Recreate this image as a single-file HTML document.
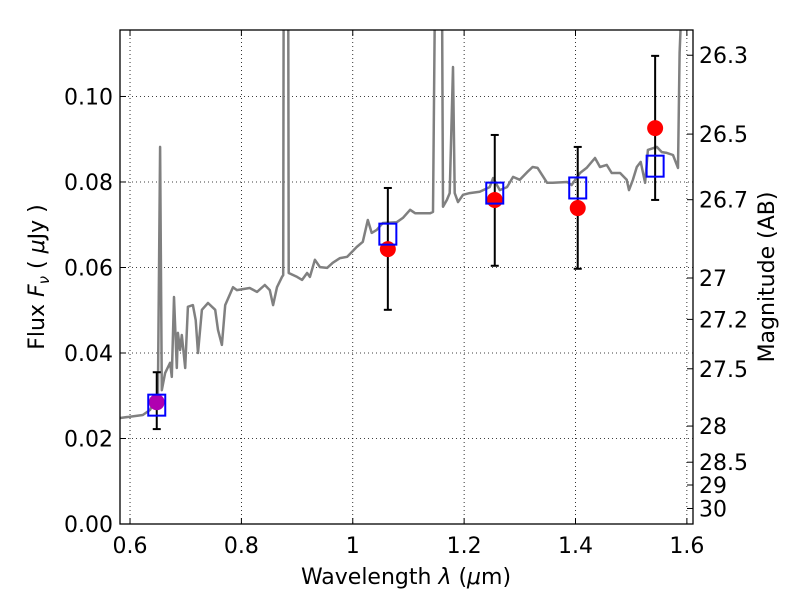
<!DOCTYPE html>
<html><head><meta charset="utf-8"><style>
body{margin:0;background:#fff}
svg{font-family:"DejaVu Sans","Liberation Sans",sans-serif}
</style></head><body>
<svg id="chart" width="800" height="600" xmlns="http://www.w3.org/2000/svg">
<rect width="800" height="600" fill="#fff"/>
<g id="grid"></g>
<defs><clipPath id="clip"><rect x="120" y="30" width="573" height="494"/></clipPath></defs>
<g id="spec" clip-path="url(#clip)"></g>
<g id="pts"></g>
<rect x="120" y="30" width="573" height="494" fill="none" stroke="#000" stroke-width="1.3"/>
<g id="axes"></g>
<text x="406" y="584" font-size="22" text-anchor="middle">Wavelength  <tspan font-style="italic">λ</tspan> (<tspan font-style="italic">μ</tspan>m)</text>
<text transform="translate(44,277) rotate(-90)" font-size="22" text-anchor="middle">Flux  <tspan font-style="italic">F</tspan><tspan font-style="italic" font-size="15" dy="5">ν</tspan><tspan dy="-5">  (  </tspan><tspan font-style="italic">μ</tspan>Jy )</text>
<text transform="translate(774,277) rotate(-90)" font-size="22" text-anchor="middle">Magnitude (AB)</text>
</svg>
<script>
const xTicks=[0.6,0.8,1,1.2,1.4,1.6];
const xTickLabels=["0.6","0.8","1","1.2","1.4","1.6"];
const yTicks=[0,0.02,0.04,0.06,0.08,0.10];
const yTickLabels=["0.00","0.02","0.04","0.06","0.08","0.10"];
const magTicks=[26.3,26.5,26.7,27,27.2,27.5,28,28.5,29,30];
const specWave=[0.582,0.623,0.636,0.650,0.654,0.657,0.663,0.672,0.675,0.679,0.684,0.686,0.690,0.693,0.699,0.704,0.713,0.718,0.722,0.729,0.740,0.753,0.758,0.765,0.771,0.785,0.792,0.815,0.828,0.842,0.851,0.857,0.864,0.873,0.875,0.876,0.884,0.885,0.900,0.909,0.918,0.923,0.932,0.941,0.954,0.964,0.977,0.990,1.007,1.018,1.027,1.034,1.043,1.054,1.079,1.090,1.103,1.112,1.139,1.144,1.148,1.160,1.162,1.169,1.174,1.180,1.183,1.189,1.198,1.210,1.228,1.246,1.252,1.264,1.277,1.288,1.300,1.313,1.323,1.332,1.349,1.359,1.385,1.393,1.408,1.420,1.435,1.444,1.456,1.465,1.480,1.492,1.496,1.503,1.510,1.517,1.525,1.530,1.546,1.555,1.564,1.575,1.584,1.587,1.593,1.620];
const specFlux=[0.0248,0.0255,0.0267,0.0306,0.0882,0.0313,0.0353,0.0377,0.0344,0.0531,0.0365,0.0447,0.0407,0.0442,0.0365,0.0508,0.0512,0.0477,0.0400,0.0501,0.0517,0.0501,0.0454,0.0419,0.0512,0.0554,0.0547,0.0552,0.0543,0.0559,0.0547,0.0512,0.0554,0.0578,0.0582,0.13,0.13,0.0587,0.0578,0.0571,0.0587,0.0578,0.0618,0.0601,0.0599,0.0611,0.0622,0.0625,0.0648,0.0660,0.0711,0.0681,0.0688,0.0704,0.0706,0.0716,0.0735,0.0727,0.0727,0.0730,0.13,0.13,0.0742,0.0758,0.0774,0.1069,0.0774,0.0753,0.0770,0.0774,0.0777,0.0788,0.0809,0.0781,0.0788,0.0812,0.0805,0.0823,0.0835,0.0833,0.0798,0.0798,0.0800,0.0793,0.0821,0.0833,0.0856,0.0835,0.0840,0.0821,0.0821,0.0805,0.0781,0.0805,0.0835,0.0847,0.0798,0.0875,0.0882,0.0870,0.0868,0.0863,0.0833,0.1102,0.13,0.13];
const photWave=[0.648,1.063,1.255,1.404,1.543];
const obsFlux=[0.0285,0.0643,0.0758,0.0739,0.0926];
const obsErrLo=[0.0222,0.0501,0.0604,0.0597,0.0758];
const obsErrHi=[0.0355,0.0786,0.0910,0.0882,0.1095];
const modelFlux=[0.0278,0.0678,0.0774,0.0786,0.0837];
const obsColors=["#b000b0","#ff0000","#ff0000","#ff0000","#ff0000"];

const X0=120,X1=693,Y0=524,Y1=30,xmin=0.582,xmax=1.611,ymin=0,ymax=0.11555;
const sx=v=>X0+(v-xmin)/(xmax-xmin)*(X1-X0);
const sy=v=>Y0-(v-ymin)/(ymax-ymin)*(Y0-Y1);
const magToFlux=m=>Math.pow(10,(23.9-m)/2.5);
const NS="http://www.w3.org/2000/svg";
function mk(tag,attrs,parent){const e=document.createElementNS(NS,tag);for(const k in attrs)e.setAttribute(k,attrs[k]);parent.appendChild(e);return e;}
const grid=document.getElementById('grid'),axes=document.getElementById('axes'),spec=document.getElementById('spec'),pts=document.getElementById('pts');
xTicks.forEach((t,i)=>{const x=sx(t);
 let g=mk('line',{x1:x,x2:x,y1:Y1,y2:Y0,stroke:'#000','stroke-width':0.8,'stroke-dasharray':'1,3'},grid);
 
 mk('line',{x1:x,x2:x,y1:Y0,y2:Y0-6,stroke:'#000'},axes);
 mk('line',{x1:x,x2:x,y1:Y1,y2:Y1+6,stroke:'#000'},axes);
 let tx=mk('text',{x:x,y:Y0+29,'font-size':22,'text-anchor':'middle'},axes);tx.textContent=xTickLabels[i];
 });
yTicks.forEach((t,i)=>{const y=sy(t);
 let g=mk('line',{x1:X0,x2:X1,y1:y,y2:y,stroke:'#000','stroke-width':0.8,'stroke-dasharray':'1,3'},grid);
 
 mk('line',{x1:X0,x2:X0+6,y1:y,y2:y,stroke:'#000'},axes);
 let tx=mk('text',{x:X0-7,y:y+8,'font-size':22,'text-anchor':'end'},axes);tx.textContent=yTickLabels[i];
 });
magTicks.forEach(m=>{const y=sy(magToFlux(m));
 mk('line',{x1:X1,x2:X1-6,y1:y,y2:y,stroke:'#000'},axes);
 let tx=mk('text',{x:X1+6,y:y+8,'font-size':22},axes);tx.textContent=String(m);
 });
let d=specWave.map((w,i)=>(i?'L':'M')+sx(w).toFixed(1)+','+sy(specFlux[i]).toFixed(1)).join('');
let p=mk('path',{d:d,fill:'none',stroke:'#808080','stroke-width':2.5,'stroke-linejoin':'round'},spec);

photWave.forEach((w,i)=>{const x=sx(w);
 let e=mk('line',{x1:x,x2:x,y1:sy(obsErrLo[i]),y2:sy(obsErrHi[i]),stroke:'#000','stroke-width':2},pts);
 
 mk('line',{x1:x-4,x2:x+4,y1:sy(obsErrLo[i]),y2:sy(obsErrLo[i]),stroke:'#000','stroke-width':2},pts);
 mk('line',{x1:x-4,x2:x+4,y1:sy(obsErrHi[i]),y2:sy(obsErrHi[i]),stroke:'#000','stroke-width':2},pts);
 let c=mk('circle',{cx:x,cy:sy(obsFlux[i]),r:8,fill:obsColors[i]},pts);
 
 let r=mk('rect',{x:x-8.5,y:sy(modelFlux[i])-10.5,width:17,height:21,fill:'none',stroke:'#0000ff','stroke-width':2},pts);
 });
</script>
</body></html>
